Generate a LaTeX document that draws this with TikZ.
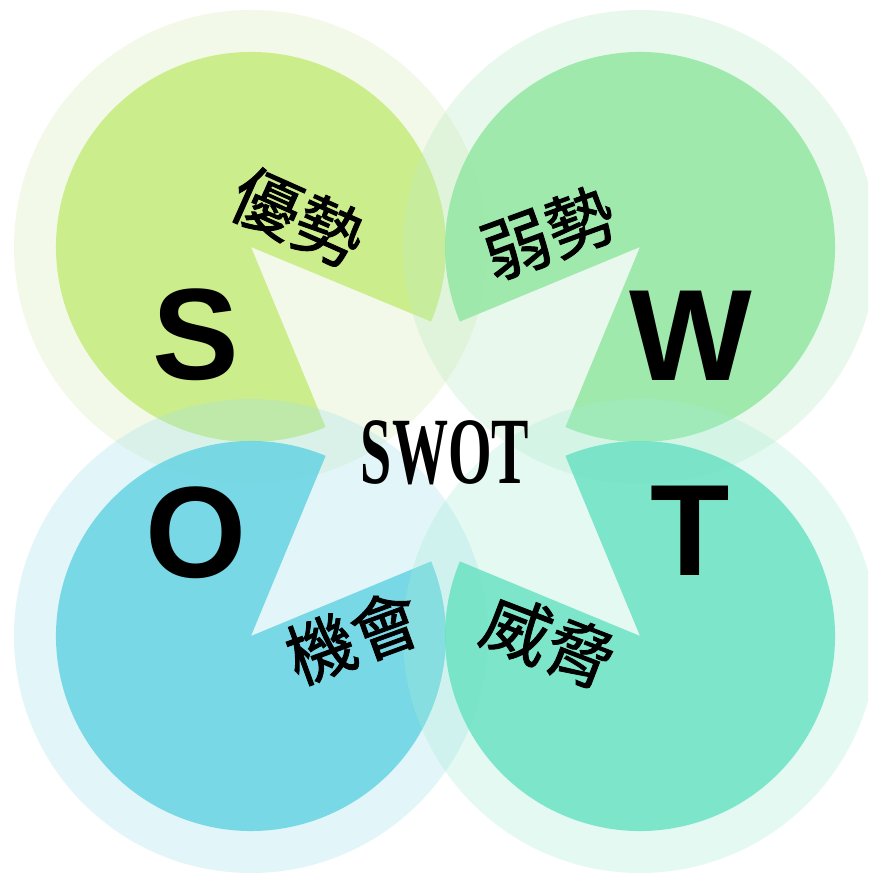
\documentclass[tikz,border=0pt]{standalone}
\usepackage{fontspec}
\newfontfamily\cjkfont{Noto Sans CJK TC}[FakeBold=1.3]
\newfontfamily\lsans{Liberation Sans}
\newfontfamily\lserif{Liberation Serif}
\definecolor{sHalo}{RGB}{215,238,182}
\definecolor{sIn}{RGB}{198,236,124}
\definecolor{wHalo}{RGB}{185,235,195}
\definecolor{wIn}{RGB}{147,231,163}
\definecolor{oHalo}{RGB}{162,225,238}
\definecolor{oIn}{RGB}{103,212,226}
\definecolor{tHalo}{RGB}{165,238,215}
\definecolor{tIn}{RGB}{108,226,195}
\begin{document}
\begin{tikzpicture}[x=1pt,y=1pt,
  halo/.style={fill opacity=0.3},
  pie/.style={fill opacity=0.85},
  letter/.style={font=\lsans\bfseries\fontsize{130}{130}\selectfont, inner sep=0pt},
  cjklabel/.style={font=\cjkfont\fontsize{68}{68}\selectfont, inner sep=0pt},
  title/.style={font=\lserif\bfseries\fontsize{95}{95}\selectfont, inner sep=0pt}]
\useasboundingbox (0,0) rectangle (868,874);
\clip (0,0) rectangle (868,874);
\fill[white] (0,0) rectangle (868,874);
\coordinate (cS) at (251,627);
\coordinate (cW) at (640,627);
\coordinate (cO) at (251,238);
\coordinate (cT) at (640,238);
% S
\fill[sHalo, halo] (cS) circle[radius=237];
\fill[sIn, pie] (cS) -- ++(-22.5:195) arc[start angle=-22.5, end angle=292.5, radius=195] -- cycle;
% W
\fill[wHalo, halo] (cW) circle[radius=237];
\fill[wIn, pie] (cW) -- ++(247.5:195) arc[start angle=247.5, end angle=562.5, radius=195] -- cycle;
% O
\fill[oHalo, halo] (cO) circle[radius=237];
\fill[oIn, pie] (cO) -- ++(67.5:195) arc[start angle=67.5, end angle=382.5, radius=195] -- cycle;
% T
\fill[tHalo, halo] (cT) circle[radius=237];
\fill[tIn, pie] (cT) -- ++(157.5:195) arc[start angle=157.5, end angle=472.5, radius=195] -- cycle;
% letters
\node[letter] (lS) at (196,539) {S};
\node[letter] (lW) at (691,538) {W};
\node[letter] (lO) at (196,341.5) {O};
\node[letter] (lT) at (690,343) {T};
% labels
\node[cjklabel, rotate=-24] (strength) at (298,657) {優勢};
\node[cjklabel, rotate=20] (weakness) at (548,641) {弱勢};
\node[cjklabel, rotate=20] (opportunity) at (353,237) {機會};
\node[cjklabel, rotate=-21] (threat) at (549,233) {威脅};
% title
\node[title] (swot) at (445,421.5) {\scalebox{0.59}[1]{SWOT}};
\end{tikzpicture}
\end{document}
